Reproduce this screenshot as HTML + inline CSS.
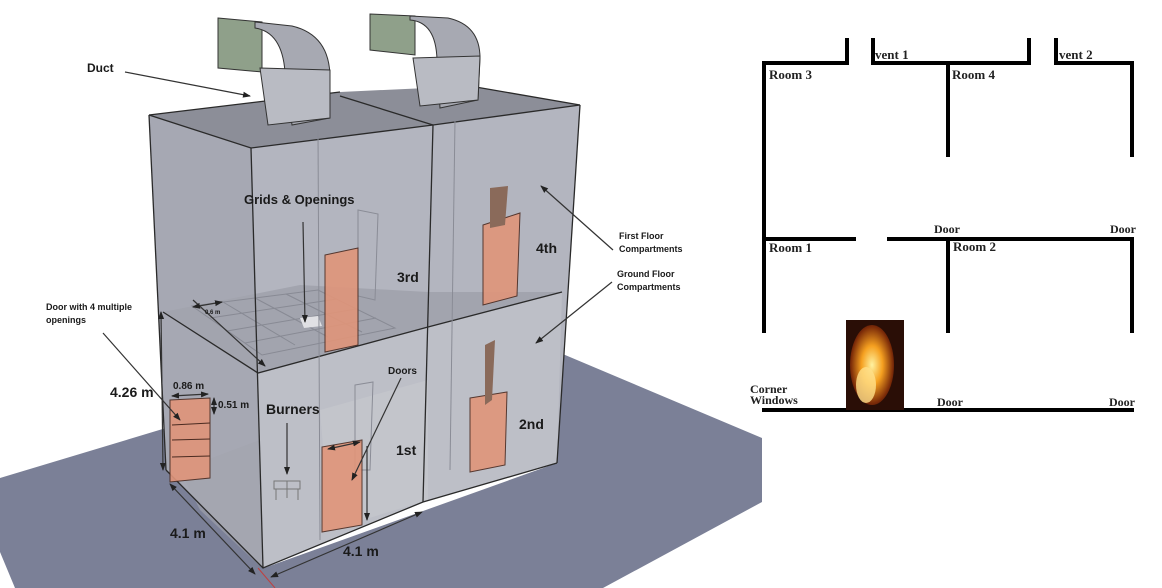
<!DOCTYPE html>
<html><head><meta charset="utf-8"><style>
html,body{margin:0;padding:0;background:#fff;}
svg{display:block;}
.b{font-family:"Liberation Sans",sans-serif;font-weight:bold;fill:#1a1a1a;}
.s{font-family:"Liberation Serif",serif;font-weight:bold;fill:#222;}
</style></head><body>
<svg width="1162" height="588" viewBox="0 0 1162 588" xmlns="http://www.w3.org/2000/svg">
<defs>
<marker id="a" markerWidth="8" markerHeight="8" refX="7" refY="4" orient="auto" markerUnits="userSpaceOnUse"><path d="M0,1 L8,4 L0,7 z" fill="#222"/></marker>
<marker id="a0" markerWidth="8" markerHeight="8" refX="1" refY="4" orient="auto" markerUnits="userSpaceOnUse"><path d="M8,1 L0,4 L8,7 z" fill="#222"/></marker>
<radialGradient id="fire" cx="0.5" cy="0.5" r="0.6"><stop offset="0" stop-color="#fff2a0"/><stop offset="0.4" stop-color="#f5a020"/><stop offset="0.8" stop-color="#7a2a08"/><stop offset="1" stop-color="#2a0c04"/></radialGradient>
</defs>
<!-- ground -->
<polygon points="0,478 166,428 166,470 264,568 557,463 558,352 762,438 762,502 603,588 15,588 0,552" fill="#7b8097"/>
<polygon points="164,405 170,405 170,430 166,430" fill="#9cc49a"/>
<!-- left face -->
<polygon points="149,115 251,148 263,568 166,470" fill="#a6a8b3"/>
<!-- front face -->
<polygon points="251,148 433,125 580,105 557,463 423,502 263,568" fill="#b3b5bf"/>
<polygon points="258,373 428,327 562,292 557,463 423,502 263,568" fill="#bdbfc7"/>
<polygon points="320,410 428,380 428,500 330,530" fill="#c6c7cd" opacity="0.7"/>
<polygon points="180,470 260,440 262,568 200,510" fill="#a3a5ae" opacity="0.6"/>
<!-- top face -->
<polygon points="149,115 340,92 470,86 580,105 433,125 251,148" fill="#8c8e98"/>
<!-- floor plane first floor -->
<polygon points="163,312 300,285 428,292 562,292 428,327 258,373" fill="#a2a4ae"/>
<g stroke="#888a94" stroke-width="1" fill="none">
<polygon points="192,306 318,290 395,328 262,355"/>
<line x1="223" y1="302" x2="295" y2="345"/><line x1="255" y1="298" x2="328" y2="337"/><line x1="286" y1="294" x2="362" y2="332"/>
<line x1="210" y1="318" x2="337" y2="299"/><line x1="227" y1="331" x2="356" y2="309"/><line x1="245" y1="343" x2="376" y2="318"/>
</g>
<polygon points="300,318 318,316 322,326 304,328" fill="#e0e0e4"/>
<g stroke="#2a2a2a" stroke-width="1.3" fill="none">
<polyline points="149,115 251,148 433,125 580,105"/>
<line x1="149" y1="115" x2="166" y2="470"/>
<line x1="251" y1="148" x2="263" y2="568"/>
<line x1="433" y1="125" x2="423" y2="502"/>
<line x1="580" y1="105" x2="557" y2="463"/>
<polyline points="166,470 263,568 423,502 557,463"/>
<polyline points="163,312 258,373 428,327 562,292"/>
<line x1="340" y1="96" x2="433" y2="125"/>
<line x1="149" y1="115" x2="340" y2="92"/>
<line x1="470" y1="86" x2="580" y2="105"/>
</g>
<g stroke="#8a8c96" stroke-width="1" fill="none">
<line x1="318" y1="130" x2="320" y2="540"/><line x1="455" y1="120" x2="450" y2="470"/>
<polygon points="358,210 378,214 375,300 358,296"/>
<polygon points="355,385 373,382 370,470 355,470"/>
</g>
<!-- ducts -->
<polygon points="218,18 262,22 262,72 218,68" fill="#8fa08a" stroke="#333" stroke-width="1"/>
<path d="M255,22 L292,26 Q330,35 330,78 L330,118 L292,125 L285,72 Q282,32 255,28 z" fill="#a7a9b2" stroke="#333" stroke-width="1"/>
<polygon points="260,68 330,70 330,118 268,125" fill="#b9bbc3" stroke="#333" stroke-width="1"/>
<polygon points="370,14 415,16 415,55 370,50" fill="#8fa08a" stroke="#333" stroke-width="1"/>
<path d="M410,16 L448,18 Q480,25 480,58 L478,100 L440,108 L437,60 Q436,22 410,20 z" fill="#a7a9b2" stroke="#333" stroke-width="1"/>
<polygon points="413,58 480,56 478,100 420,106" fill="#b9bbc3" stroke="#333" stroke-width="1"/>
<!-- doors -->
<g fill="#e0957a" opacity="0.9" stroke="#4a2a20" stroke-width="1">
<polygon points="325,255 358,248 358,345 325,352"/>
<polygon points="483,225 520,213 517,296 483,305"/>
<polygon points="470,398 507,392 505,465 470,472"/>
<polygon points="322,447 362,440 362,525 322,532"/>
<polygon points="170,400 210,398 210,478 170,482"/>
</g>
<polygon points="490,188 508,186 505,225 490,228" fill="#8a6a5a"/>
<polygon points="485,345 495,340 492,400 485,405" fill="#8a6a5a"/>
<g stroke="#4a2a20" stroke-width="1"><line x1="172" y1="425" x2="210" y2="423"/><line x1="172" y1="440" x2="210" y2="439"/><line x1="172" y1="457" x2="210" y2="456"/></g>
<g stroke="#777" fill="none" stroke-width="1"><rect x="274" y="481" width="26" height="8"/><line x1="287" y1="481" x2="287" y2="498"/><line x1="276" y1="489" x2="276" y2="500"/><line x1="298" y1="489" x2="298" y2="500"/></g>
<g stroke="#333" stroke-width="1.2" fill="none">
<line x1="125" y1="72" x2="250" y2="96" marker-end="url(#a)"/>
<line x1="303" y1="222" x2="305" y2="322" marker-end="url(#a)"/>
<line x1="613" y1="250" x2="541" y2="186" marker-end="url(#a)"/>
<line x1="612" y1="282" x2="536" y2="343" marker-end="url(#a)"/>
<line x1="287" y1="423" x2="287" y2="474" marker-end="url(#a)"/>
<line x1="401" y1="378" x2="352" y2="480" marker-end="url(#a)"/>
<line x1="103" y1="333" x2="180" y2="420" marker-end="url(#a)"/>
<line x1="161" y1="312" x2="163" y2="470" marker-end="url(#a)" marker-start="url(#a0)"/>
<line x1="172" y1="396" x2="208" y2="394" marker-end="url(#a)" marker-start="url(#a0)"/>
<line x1="214" y1="398" x2="214" y2="414" marker-end="url(#a)" marker-start="url(#a0)"/>
<line x1="170" y1="484" x2="255" y2="574" marker-end="url(#a)" marker-start="url(#a0)"/>
<line x1="271" y1="577" x2="422" y2="512" marker-end="url(#a)" marker-start="url(#a0)"/>
<line x1="328" y1="449" x2="360" y2="442" marker-end="url(#a)" marker-start="url(#a0)"/>
<line x1="367" y1="446" x2="367" y2="520" marker-end="url(#a)"/>
<line x1="193" y1="300" x2="265" y2="366" marker-end="url(#a)"/>
<line x1="193" y1="307" x2="222" y2="302" marker-end="url(#a)" marker-start="url(#a0)"/>
</g>
<line x1="258" y1="568" x2="275" y2="588" stroke="#c04040" stroke-width="1"/>
<text x="87" y="72" class="b" font-size="12" fill="#2f3a2a">Duct</text>
<text x="244" y="204" class="b" font-size="13">Grids &amp; Openings</text>
<text x="397" y="282" class="b" font-size="14">3rd</text>
<text x="536" y="253" class="b" font-size="14">4th</text>
<text x="519" y="429" class="b" font-size="14">2nd</text>
<text x="396" y="455" class="b" font-size="14">1st</text>
<text x="266" y="414" class="b" font-size="14">Burners</text>
<text x="388" y="374" class="b" font-size="10">Doors</text>
<text x="46" y="310" class="b" font-size="9" fill="#2f3a2a">Door with 4 multiple</text>
<text x="46" y="323" class="b" font-size="9" fill="#2f3a2a">openings</text>
<text x="110" y="397" class="b" font-size="14">4.26 m</text>
<text x="173" y="389" class="b" font-size="10">0.86 m</text>
<text x="218" y="408" class="b" font-size="10">0.51 m</text>
<text x="170" y="538" class="b" font-size="14">4.1 m</text>
<text x="343" y="556" class="b" font-size="14">4.1 m</text>
<text x="205" y="314" class="b" font-size="6" fill="#333">0.6 m</text>
<text x="619" y="239" class="b" font-size="9" fill="#333">First Floor</text>
<text x="619" y="252" class="b" font-size="9" fill="#333">Compartments</text>
<text x="617" y="277" class="b" font-size="9" fill="#333">Ground Floor</text>
<text x="617" y="290" class="b" font-size="9" fill="#333">Compartments</text>
<g stroke="#000" stroke-width="4" fill="none" stroke-linecap="square">
<polyline points="764,331 764,63 847,63 847,40"/>
<polyline points="873,40 873,63 1029,63 1029,40"/>
<line x1="948" y1="63" x2="948" y2="155"/>
<polyline points="1056,40 1056,63 1132,63 1132,155"/>
<line x1="764" y1="239" x2="854" y2="239"/>
<polyline points="889,239 1132,239 1132,331"/>
<line x1="948" y1="239" x2="948" y2="331"/>
<line x1="764" y1="410" x2="1132" y2="410"/>
</g>
<rect x="846" y="320" width="58" height="90" fill="#2a0e06"/>
<ellipse cx="872" cy="365" rx="22" ry="40" fill="url(#fire)"/>
<ellipse cx="866" cy="385" rx="10" ry="18" fill="#ffe08a" opacity="0.8"/>
<text x="769" y="79" class="s" font-size="13">Room 3</text>
<text x="875" y="59" class="s" font-size="13">vent 1</text>
<text x="952" y="79" class="s" font-size="13">Room 4</text>
<text x="1059" y="59" class="s" font-size="13">vent 2</text>
<text x="934" y="233" class="s" font-size="12">Door</text>
<text x="1110" y="233" class="s" font-size="12">Door</text>
<text x="769" y="252" class="s" font-size="13">Room 1</text>
<text x="953" y="251" class="s" font-size="13">Room 2</text>
<text x="750" y="393" class="s" font-size="12">Corner</text>
<text x="750" y="404" class="s" font-size="12">Windows</text>
<text x="937" y="406" class="s" font-size="12">Door</text>
<text x="1109" y="406" class="s" font-size="12">Door</text>
</svg>
</body></html>
